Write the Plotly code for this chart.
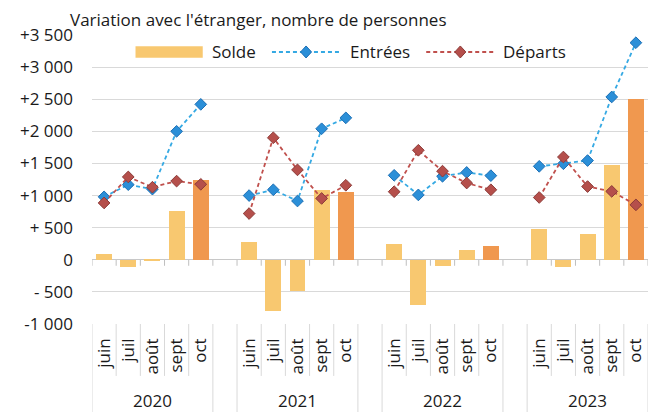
import plotly.graph_objects as go

# ---------------- data ----------------
years = ["2020", "2021", "2022", "2023"]
months = ["juin", "juil", "août", "sept", "oct"]
solde = [85, -120, -25, 760, 1250,
         275, -805, -490, 1080, 1050,
         250, -710, -95, 160, 210,
         475, -105, 400, 1470, 2510]
entrees = [980, 1170, 1100, 2000, 2420,
           1000, 1090, 915, 2040, 2210,
           1315, 1010, 1300, 1360, 1310,
           1455, 1495, 1545, 2535, 3380]
departs = [885, 1290, 1130, 1225, 1175,
           720, 1900, 1400, 955, 1160,
           1060, 1705, 1380, 1195, 1090,
           970, 1600, 1140, 1065, 855]
y_tickvals = [-1000, -500, 0, 500, 1000, 1500, 2000, 2500, 3000, 3500]
y_ticktext = ["-1 000", "- 500", "0", "+ 500", "+1 000", "+1 500",
              "+2 000", "+2 500", "+3 000", "+3 500"]
series_names = ["Solde", "Entrées", "Départs"]

# ---------------- styles ----------------
FONT = "Open Sans"
TXT = "#1a1a1a"
GRID = "#D9D9D9"
C_SOLDE = "#F8C870"
C_SOLDE_LAST = "#F0984F"
C_ENT_LINE = "#35A9E3"
C_ENT_FILL = "#2B8FD8"
C_ENT_EDGE = "#1C6FB5"
C_DEP_LINE = "#C0504D"
C_DEP_FILL = "#B54F4B"
C_DEP_EDGE = "#8C3B38"

# page body adds an 8px offset: size the figure to fit the window
OFF = 8
WIN_W, WIN_H = 661, 412
W, H = WIN_W - OFF, WIN_H - OFF
# plot area in window pixels (reference)
PL, PR, PT, PB = 86, 648.3, 34.7, 324
SLOT = len(months) + 1


def px_x(p):
    return (p - PL) / (PR - PL)


def px_y(p):
    return (PB - p) / (PB - PT)


# positions: one empty slot between years
pos = []
for g in range(len(years)):
    for m in range(len(months)):
        pos.append(g * SLOT + m)

bar_colors = [C_SOLDE_LAST if (i % len(months)) == len(months) - 1 else C_SOLDE
              for i in range(len(solde))]


def with_breaks(values):
    xs, ys = [], []
    for g in range(len(years)):
        for m in range(len(months)):
            i = g * len(months) + m
            xs.append(pos[i])
            ys.append(values[i])
        xs.append(None)
        ys.append(None)
    return xs, ys


fig = go.Figure()
fig.add_trace(go.Bar(x=pos, y=solde, name=series_names[0], width=0.66,
                     marker=dict(color=bar_colors, line=dict(width=0)),
                     showlegend=False))
ex, ey = with_breaks(entrees)
fig.add_trace(go.Scatter(x=ex, y=ey, name=series_names[1], mode="lines+markers",
                         line=dict(color=C_ENT_LINE, width=1.8, dash="4px,3px"),
                         marker=dict(symbol="diamond", size=9, color=C_ENT_FILL,
                                     line=dict(color=C_ENT_EDGE, width=1)),
                         connectgaps=False, showlegend=False))
dx, dy = with_breaks(departs)
fig.add_trace(go.Scatter(x=dx, y=dy, name=series_names[2], mode="lines+markers",
                         line=dict(color=C_DEP_LINE, width=1.8, dash="4px,3px"),
                         marker=dict(symbol="diamond", size=9, color=C_DEP_FILL,
                                     line=dict(color=C_DEP_EDGE, width=1)),
                         connectgaps=False, showlegend=False))

shapes = []
annotations = []
n_slots = len(years) * SLOT - 1
# small ticks under the zero line at every slot boundary
for k in range(n_slots + 1):
    shapes.append(dict(type="line", xref="x", yref="y", x0=k - 0.5, x1=k - 0.5,
                       ysizemode="pixel", yanchor=0, y0=0, y1=-6,
                       line=dict(color="#BFBFBF", width=1), layer="below"))
# category box lines
y_month_bottom = px_y(376)
y_bottom = px_y(WIN_H + 2)
for g in range(len(years)):
    start = g * SLOT
    for m in range(len(months) - 1):
        xb = start + m + 0.5
        shapes.append(dict(type="line", xref="x", yref="paper", x0=xb, x1=xb,
                           y0=0, y1=y_month_bottom, line=dict(color=GRID, width=1)))
    for xb in (start - 0.5, start + len(months) - 0.5):
        shapes.append(dict(type="line", xref="x", yref="paper", x0=xb, x1=xb,
                           y0=0, y1=y_bottom, line=dict(color=GRID, width=1)))
    annotations.append(dict(x=start + (len(months) - 1) / 2, y=px_y(401), xref="x",
                            yref="paper", text=years[g], showarrow=False,
                            xanchor="center", yanchor="middle",
                            font=dict(size=17, color=TXT, family=FONT)))

# manual legend
LY = 51.7
shapes.append(dict(type="rect", xref="paper", yref="paper", x0=px_x(130), x1=px_x(198),
                   y0=px_y(46), y1=px_y(57.5), fillcolor=C_SOLDE, line=dict(width=0)))
annotations.append(dict(x=px_x(205), y=px_y(LY), xref="paper", yref="paper",
                        text=series_names[0], showarrow=False, xanchor="left",
                        yanchor="middle", font=dict(size=17, color=TXT, family=FONT)))
for (x0, x1, xt, lc, fc, ec, nm) in [
        (268, 337, 345, C_ENT_LINE, C_ENT_FILL, C_ENT_EDGE, series_names[1]),
        (424, 493, 500, C_DEP_LINE, C_DEP_FILL, C_DEP_EDGE, series_names[2])]:
    shapes.append(dict(type="line", xref="paper", yref="paper", x0=px_x(x0), x1=px_x(x1),
                       y0=px_y(LY), y1=px_y(LY),
                       line=dict(color=lc, width=1.8, dash="4px,3px")))
    shapes.append(dict(type="path", xref="paper", yref="paper",
                       xsizemode="pixel", ysizemode="pixel",
                       xanchor=px_x((x0 + x1) / 2), yanchor=px_y(LY),
                       path="M-5.5,0L0,6L5.5,0L0,-6Z", fillcolor=fc,
                       line=dict(color=ec, width=1)))
    annotations.append(dict(x=px_x(xt), y=px_y(LY), xref="paper", yref="paper",
                            text=nm, showarrow=False, xanchor="left",
                            yanchor="middle", font=dict(size=17, color=TXT, family=FONT)))

# title
annotations.append(dict(x=px_x(63), y=px_y(19.5), xref="paper", yref="paper",
                        text="Variation avec l'étranger, nombre de personnes",
                        showarrow=False, xanchor="left", yanchor="middle",
                        borderpad=0,
                        font=dict(size=17, color=TXT, family=FONT)))

fig.update_layout(
    width=W, height=H,
    margin=dict(l=PL - OFF, r=WIN_W - PR, t=PT - OFF, b=WIN_H - PB, pad=0),
    paper_bgcolor="white", plot_bgcolor="white",
    font=dict(family=FONT, size=17, color=TXT),
    showlegend=False,
    bargap=0,
    shapes=shapes,
    annotations=annotations,
    xaxis=dict(range=[-0.5, n_slots - 0.5], tickmode="array", tickvals=pos,
               ticktext=[months[i % len(months)] for i in range(len(pos))],
               tickangle=-90, showgrid=False, zeroline=False, showline=False,
               ticks="", ticklabelstandoff=10,
               tickfont=dict(size=17, color=TXT, family=FONT), fixedrange=True),
    yaxis=dict(range=[-1000, 3500], tickmode="array", tickvals=y_tickvals,
               ticktext=y_ticktext, showgrid=True, gridcolor=GRID, gridwidth=1,
               zeroline=True, zerolinecolor="#C8C8C8", zerolinewidth=1,
               showline=False, ticks="", ticklabelstandoff=18,
               tickfont=dict(size=17, color=TXT, family=FONT), fixedrange=True),
)

fig.write_html("out.html")
